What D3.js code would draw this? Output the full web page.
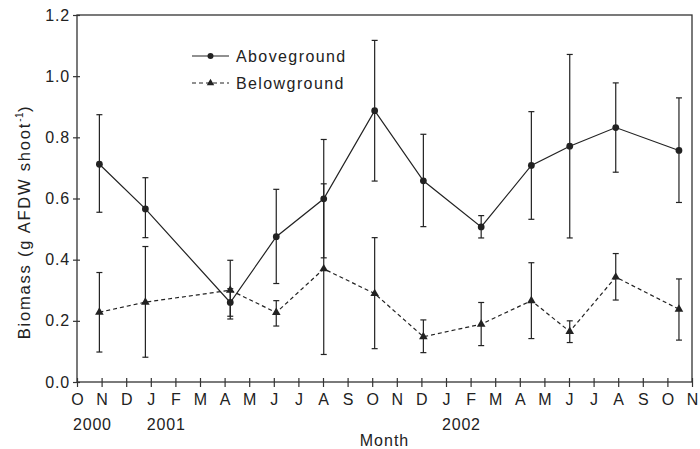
<!DOCTYPE html>
<html>
<head>
<script src="https://cdn.jsdelivr.net/npm/d3@7"></script>
<style>
  body { margin: 0; background: #fff; }
  text { font-family: "Liberation Sans", Arial, Helvetica, sans-serif; fill: #222; }
</style>
</head>
<body>
<svg id="chart"></svg>
<script>
// month ticks, Oct 2000 .. Nov 2002
var months = ["O","N","D","J","F","M","A","M","J","J","A","S","O","N","D","J","F","M","A","M","J","J","A","S","O","N"];
var yearLabels = ["2000", "2001", "2002"];
var yearAt = [0, 3, 15];
var yTicks = [0, 0.2, 0.4, 0.6, 0.8, 1.0, 1.2];

// sampling dates as fractional month index
var sampleMonth = [0.91, 2.78, 6.23, 8.1, 10.03, 12.1, 14.08, 16.43, 18.47, 20.03, 21.9, 24.47];

var above   = [0.712, 0.566, 0.26, 0.475, 0.599, 0.887, 0.658, 0.507, 0.708, 0.771, 0.832, 0.757];
var aboveHi = [0.874, 0.668, 0.305, 0.63, 0.793, 1.117, 0.81, 0.544, 0.884, 1.071, 0.978, 0.929];
var aboveLo = [0.555, 0.472, 0.215, 0.322, 0.406, 0.657, 0.508, 0.471, 0.532, 0.471, 0.686, 0.587];

var below   = [0.228, 0.261, 0.30, 0.227, 0.37, 0.289, 0.148, 0.189, 0.266, 0.165, 0.343, 0.238];
var belowHi = [0.358, 0.443, 0.398, 0.266, 0.648, 0.472, 0.203, 0.26, 0.39, 0.2, 0.42, 0.337];
var belowLo = [0.098, 0.081, 0.206, 0.183, 0.09, 0.109, 0.096, 0.119, 0.142, 0.129, 0.268, 0.137];

var width = 700, height = 449;
var mLeft = 77, mRight = 692, mTop = 15, mBottom = 382;
var ink = "#222";

var svg = d3.select("#chart").attr("width", width).attr("height", height);

var x = d3.scaleLinear().domain([0, months.length - 1]).range([mLeft, mRight]);
var y = d3.scaleLinear().domain([0, 1.2]).range([mBottom, mTop]);

// frame
svg.append("rect")
   .attr("x", mLeft).attr("y", mTop)
   .attr("width", mRight - mLeft).attr("height", mBottom - mTop)
   .attr("fill", "none").attr("stroke", "#333").attr("stroke-width", 1.3);

// y axis
var yAxis = svg.append("g").attr("transform", "translate(" + mLeft + ",0)")
   .call(d3.axisLeft(y).tickValues(yTicks).tickFormat(d3.format(".1f")).tickSizeInner(4).tickSizeOuter(0).tickPadding(3));
yAxis.select(".domain").remove();
yAxis.selectAll(".tick line").attr("x2", -4).attr("x1", 3).attr("stroke", "#333").attr("stroke-width", 1.2);
yAxis.selectAll(".tick text").attr("font-size", 16).attr("letter-spacing", 0.8).attr("fill", ink);

// x axis
var xAxis = svg.append("g").attr("transform", "translate(0," + mBottom + ")")
   .call(d3.axisBottom(x).tickValues(d3.range(months.length)).tickFormat(function(i) { return months[i]; })
   .tickSizeInner(5).tickSizeOuter(0).tickPadding(7));
xAxis.select(".domain").remove();
xAxis.selectAll(".tick line").attr("y1", -4).attr("y2", 5).attr("stroke", "#333").attr("stroke-width", 1.2);
xAxis.selectAll(".tick text").attr("font-size", 16).attr("fill", ink);

svg.selectAll(".year").data(yearLabels).enter().append("text")
   .attr("class", "year")
   .attr("x", function(d, i) { return x(yearAt[i]) - 4; })
   .attr("y", 430)
   .attr("font-size", 16).attr("letter-spacing", 0.8)
   .text(function(d) { return d; });

svg.append("text")
   .attr("x", (mLeft + mRight) / 2).attr("y", 446)
   .attr("text-anchor", "middle").attr("font-size", 16).attr("letter-spacing", 1)
   .text("Month");

var ylab = svg.append("text")
   .attr("transform", "translate(29.5,222) rotate(-90)")
   .attr("text-anchor", "middle").attr("font-size", 16.5).attr("letter-spacing", 1.8);
ylab.append("tspan").text("Biomass (g AFDW shoot");
ylab.append("tspan").attr("font-size", 10).attr("letter-spacing", 0.5).attr("dy", -7).text("-1");
ylab.append("tspan").attr("dy", 7).text(")");

// error bars
function errorBars(vals, lo, hi) {
  var g = svg.append("g").attr("stroke", ink).attr("stroke-width", 1.2);
  vals.forEach(function(v, i) {
    var cx = x(sampleMonth[i]);
    g.append("line").attr("x1", cx).attr("x2", cx).attr("y1", y(lo[i])).attr("y2", y(hi[i]));
    g.append("line").attr("x1", cx - 3).attr("x2", cx + 3).attr("y1", y(lo[i])).attr("y2", y(lo[i]));
    g.append("line").attr("x1", cx - 3).attr("x2", cx + 3).attr("y1", y(hi[i])).attr("y2", y(hi[i]));
  });
}
errorBars(above, aboveLo, aboveHi);
errorBars(below, belowLo, belowHi);

var line = d3.line().x(function(d, i) { return x(sampleMonth[i]); }).y(function(d) { return y(d); });

svg.append("path").datum(above).attr("d", line)
   .attr("fill", "none").attr("stroke", ink).attr("stroke-width", 1.2);
svg.append("path").datum(below).attr("d", line)
   .attr("fill", "none").attr("stroke", ink).attr("stroke-width", 1.2).attr("stroke-dasharray", "4,3");

var circleSym = d3.symbol().type(d3.symbolCircle).size(36);
var triSym = d3.symbol().type(d3.symbolTriangle).size(32);

svg.selectAll(".dotA").data(above).enter().append("path")
   .attr("d", circleSym)
   .attr("transform", function(d, i) { return "translate(" + x(sampleMonth[i]) + "," + y(d) + ")"; })
   .attr("fill", ink);
svg.selectAll(".dotB").data(below).enter().append("path")
   .attr("d", triSym)
   .attr("transform", function(d, i) { return "translate(" + x(sampleMonth[i]) + "," + y(d) + ")"; })
   .attr("fill", ink);

// legend
var legend = [
  { name: "Aboveground", sym: d3.symbol().type(d3.symbolCircle).size(28), dash: null, ly: 56 },
  { name: "Belowground", sym: d3.symbol().type(d3.symbolTriangle).size(24), dash: "4,3", ly: 83 }
];
legend.forEach(function(l) {
  svg.append("line").attr("x1", 192).attr("x2", 229).attr("y1", l.ly).attr("y2", l.ly)
     .attr("stroke", ink).attr("stroke-width", 1.2).attr("stroke-dasharray", l.dash);
  svg.append("path").attr("d", l.sym)
     .attr("transform", "translate(210.5," + l.ly + ")").attr("fill", ink);
  svg.append("text").attr("x", 236).attr("y", l.ly + 5.5)
     .attr("font-size", 16).attr("letter-spacing", 1.4).text(l.name);
});
</script>
</body>
</html>
